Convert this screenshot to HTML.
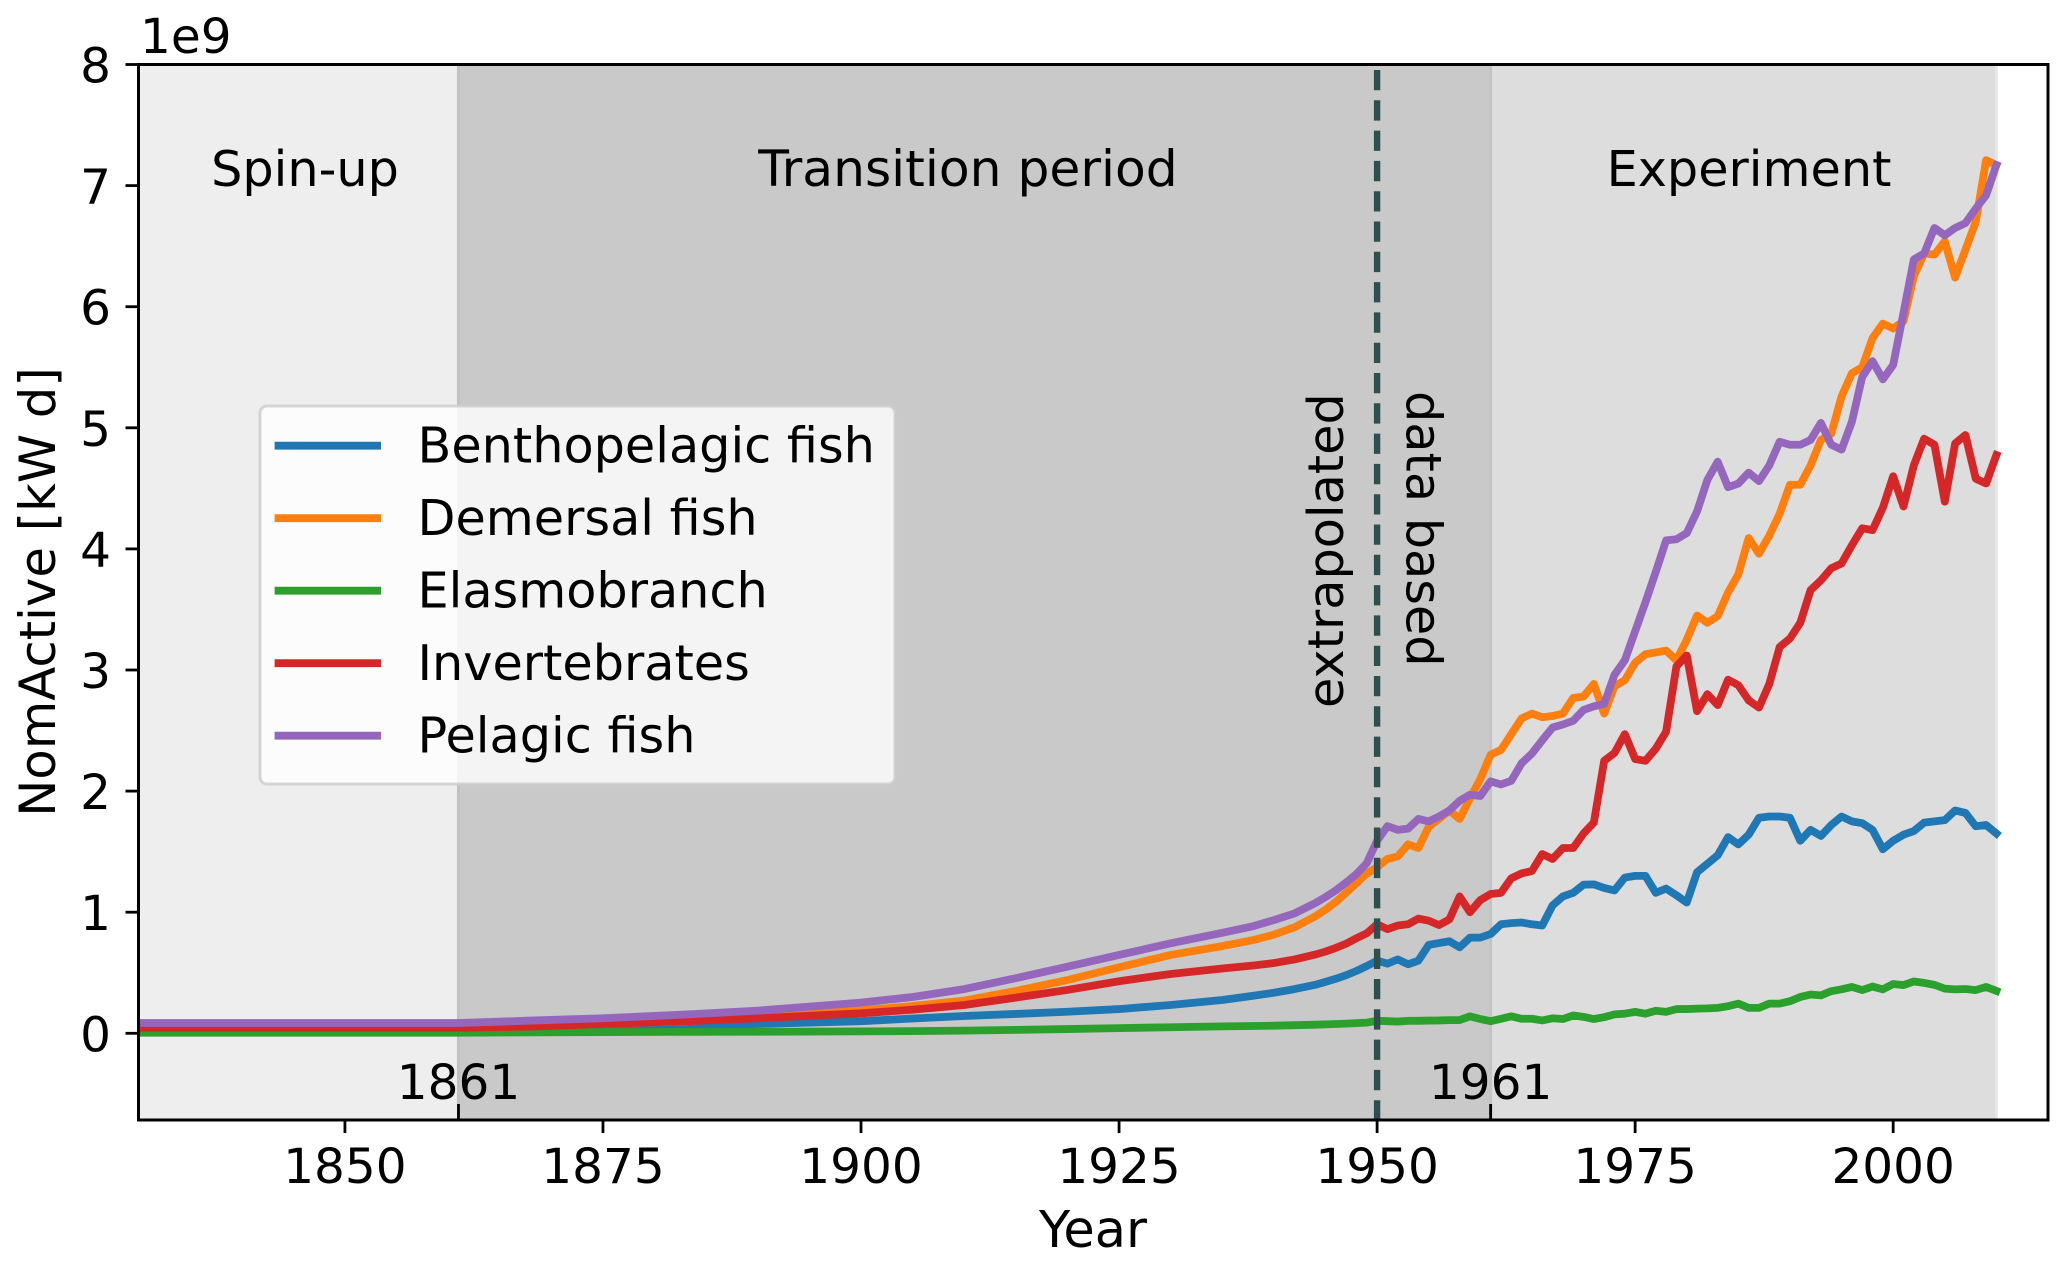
<!DOCTYPE html>
<html lang="en">
<head>
<meta charset="utf-8">
<title>NomActive by functional group</title>
<style>
html,body{margin:0;padding:0;background:#fff;}
svg{display:block;font-family:"DejaVu Sans","Liberation Sans",sans-serif;}
text{fill:#000;font-size:49.3px;}
text.tick{font-size:48.5px;}
</style>
</head>
<body>
<svg id="chart" xmlns="http://www.w3.org/2000/svg" width="2067" height="1265" viewBox="0 0 2067 1265">
  <defs>
    <clipPath id="plot-clip"><rect x="138.5" y="64.5" width="1909.5" height="1055.5"/></clipPath>
  </defs>
  <rect x="0" y="0" width="2067" height="1265" fill="#ffffff"/>
  <g id="spans"></g>
  <g id="series" clip-path="url(#plot-clip)"></g>
  <g id="marker"></g>
  <g id="axes"></g>
  <g>
    <text x="305" y="186" text-anchor="middle">Spin-up</text>
    <text x="968" y="186" text-anchor="middle" style="font-size:50.3px">Transition period</text>
    <text x="1749" y="186" text-anchor="middle">Experiment</text>
    <text transform="translate(1343 708) rotate(-90)">extrapolated</text>
    <text transform="translate(1406.5 391) rotate(90)">data based</text>
  </g>
  <g>
    <rect x="260" y="406" width="635" height="378" rx="7" ry="7" fill="#ffffff" fill-opacity="0.8" stroke="#cccccc" stroke-opacity="0.8" stroke-width="3"/>
    <g>
      <line x1="274.6" x2="381" y1="445.7" y2="445.7" stroke="#1f77b4" stroke-width="7.8"/>
      <text x="417.5" y="462.7">Benthopelagic fish</text>
    </g>
    <g>
      <line x1="274.6" x2="381" y1="518.2" y2="518.2" stroke="#ff7f0e" stroke-width="7.8"/>
      <text x="417.5" y="535.2">Demersal fish</text>
    </g>
    <g>
      <line x1="274.6" x2="381" y1="590.7" y2="590.7" stroke="#2ca02c" stroke-width="7.8"/>
      <text x="417.5" y="607.7">Elasmobranch</text>
    </g>
    <g>
      <line x1="274.6" x2="381" y1="663.2" y2="663.2" stroke="#d62728" stroke-width="7.8"/>
      <text x="417.5" y="680.2">Invertebrates</text>
    </g>
    <g>
      <line x1="274.6" x2="381" y1="735.7" y2="735.7" stroke="#9467bd" stroke-width="7.8"/>
      <text x="417.5" y="752.7">Pelagic fish</text>
    </g>
  </g>
</svg>
<script>
const years = [1830,1861,1868,1875,1883,1890,1900,1905,1910,1915,1920,1925,1930,1935,1938,1940,1942,1944,1945,1946,1947,1948,1949,
  1950,1951,1952,1953,1954,1955,1956,1957,1958,1959,
  1960,1961,1962,1963,1964,1965,1966,1967,1968,1969,
  1970,1971,1972,1973,1974,1975,1976,1977,1978,1979,
  1980,1981,1982,1983,1984,1985,1986,1987,1988,1989,
  1990,1991,1992,1993,1994,1995,1996,1997,1998,1999,
  2000,2001,2002,2003,2004,2005,2006,2007,2008,2009,
  2010];
const benthopelagic = [.03,.03,.035,.046,.06,.077,.10,.122,.143,.16,.178,.20,.234,.275,.31,.335,.365,.40,.425,.45,.48,.515,.555,
  .60,.575,.61,.57,.60,.73,.745,.76,.71,.79,
  .79,.82,.90,.91,.915,.90,.89,1.056,1.13,1.16,
  1.227,1.23,1.20,1.18,1.286,1.30,1.30,1.16,1.195,1.14,
  1.08,1.33,1.40,1.47,1.62,1.56,1.64,1.78,1.79,1.79,
  1.78,1.59,1.68,1.63,1.72,1.79,1.75,1.735,1.68,1.52,
  1.59,1.64,1.67,1.74,1.75,1.76,1.84,1.82,1.71,1.72,
  1.65];
const demersal = [.04,.04,.055,.077,.10,.13,.19,.225,.27,.35,.44,.545,.647,.72,.77,.815,.875,.965,1.02,1.085,1.16,1.24,1.32,
  1.37,1.44,1.46,1.56,1.53,1.705,1.77,1.84,1.77,1.94,
  2.10,2.30,2.34,2.47,2.60,2.64,2.61,2.62,2.64,2.77,
  2.78,2.885,2.64,2.865,2.915,3.06,3.13,3.145,3.16,3.08,
  3.25,3.45,3.39,3.445,3.64,3.79,4.09,3.96,4.11,4.29,
  4.53,4.53,4.69,4.90,4.95,5.26,5.45,5.50,5.74,5.86,
  5.82,5.88,6.25,6.44,6.43,6.54,6.24,6.47,6.70,7.21,
  7.17];
const elasmobranch = [.005,.005,.008,.01,.012,.013,.016,.018,.022,.028,.035,.043,.05,.057,.06,.063,.067,.071,.074,.077,.08,.084,.088,
  .103,.10,.097,.103,.103,.105,.106,.109,.109,.14,
  .118,.10,.12,.14,.12,.12,.106,.124,.118,.147,
  .136,.118,.133,.156,.162,.177,.162,.186,.177,.20,
  .20,.204,.206,.21,.224,.245,.21,.21,.245,.245,
  .265,.30,.32,.313,.348,.363,.383,.357,.386,.363,
  .407,.398,.428,.416,.40,.369,.363,.366,.357,.383,
  .35];
const invertebrates = [.045,.045,.055,.077,.10,.124,.165,.195,.234,.295,.358,.43,.49,.535,.56,.58,.61,.65,.675,.705,.74,.785,.826,
  .90,.86,.89,.90,.947,.93,.894,.94,1.13,1.00,
  1.10,1.15,1.16,1.28,1.32,1.34,1.48,1.44,1.53,1.53,
  1.65,1.74,2.25,2.315,2.47,2.265,2.25,2.35,2.49,3.03,
  3.12,2.66,2.80,2.71,2.92,2.875,2.75,2.69,2.885,3.19,
  3.26,3.39,3.66,3.74,3.84,3.88,4.03,4.17,4.155,4.34,
  4.60,4.35,4.69,4.91,4.86,4.39,4.87,4.94,4.58,4.54,
  4.775];
const pelagic = [.085,.085,.105,.124,.155,.187,.253,.30,.365,.455,.55,.647,.743,.83,.885,.935,.99,1.075,1.125,1.18,1.245,1.315,1.405,
  1.59,1.71,1.68,1.69,1.77,1.75,1.79,1.84,1.92,1.97,
  1.96,2.08,2.055,2.085,2.23,2.31,2.42,2.525,2.55,2.58,
  2.67,2.70,2.72,2.96,3.08,3.32,3.56,3.81,4.07,4.08,
  4.13,4.31,4.57,4.72,4.51,4.54,4.63,4.56,4.69,4.885,
  4.86,4.86,4.90,5.04,4.86,4.82,5.05,5.42,5.55,5.40,
  5.52,5.95,6.39,6.44,6.65,6.59,6.65,6.69,6.81,6.92,
  7.17];
const seriesNames = ['benthopelagic','demersal','elasmobranch','invertebrates','pelagic'];
const seriesColors = ['#1f77b4','#ff7f0e','#2ca02c','#d62728','#9467bd'];
const seriesValues = [benthopelagic,demersal,elasmobranch,invertebrates,pelagic];
const xTickYears = [1850,1875,1900,1925,1950,1975,2000];
const xInnerTickYears = [1861,1961];
const yTickValues = [0,1,2,3,4,5,6,7,8];
const periodStarts = [1830,1861,1961];
const periodEnds = [1861,1961,2010];
const periodNames = ['spin-up','transition','experiment'];
const periodColors = ['#eeeeee','#c9c9c9','#dddddd'];
const splitYear = 1950;

const NS = 'http://www.w3.org/2000/svg';
const PLOT_LEFT = 138.5, PLOT_RIGHT = 2048, PLOT_TOP = 64.5, PLOT_BOTTOM = 1120;
const X_MIN = 1830, X_MAX = 2015, Y_TOP = 8, Y_ZERO_PX = 1033.3;
function xScale(year){ return PLOT_LEFT + (year - X_MIN) * (PLOT_RIGHT - PLOT_LEFT) / (X_MAX - X_MIN); }
function yScale(v){ return Y_ZERO_PX - v * (Y_ZERO_PX - PLOT_TOP) / Y_TOP; }
function make(tag, attrs, parent){
  const el = document.createElementNS(NS, tag);
  for (const k in attrs) el.setAttribute(k, attrs[k]);
  parent.appendChild(el);
  return el;
}

const spansG = document.getElementById('spans');
periodStarts.forEach(function(start, i){
  const r = make('rect', {x: xScale(start), y: PLOT_TOP, width: xScale(periodEnds[i]) - xScale(start), height: PLOT_BOTTOM - PLOT_TOP, fill: periodColors[i]}, spansG);
  
  
});
[[1861,'#c1c1c1'],[1961,'#c4c4c4'],[2010,'#e6e6e6']].forEach(function(edge){
  const l = make('line', {x1: xScale(edge[0]), x2: xScale(edge[0]), y1: PLOT_TOP, y2: PLOT_BOTTOM, stroke: edge[1], 'stroke-width': 3}, spansG);
  
  
});

const seriesG = document.getElementById('series');
seriesValues.forEach(function(values, i){
  const pts = values.map(function(v, j){ return xScale(years[j]).toFixed(2) + ',' + yScale(v).toFixed(2); }).join(' ');
  const p = make('polyline', {points: pts, fill: 'none', stroke: seriesColors[i], 'stroke-width': 7.8, 'stroke-linejoin': 'round', 'stroke-linecap': 'square'}, seriesG);
  
  
});

const markerG = document.getElementById('marker');
const dash = make('line', {x1: xScale(splitYear), x2: xScale(splitYear), y1: 70, y2: PLOT_BOTTOM, stroke: '#2f4f4f', 'stroke-width': 6.4, 'stroke-dasharray': '20.3 10'}, markerG);



const axesG = document.getElementById('axes');
const frame = make('rect', {x: PLOT_LEFT, y: PLOT_TOP, width: PLOT_RIGHT - PLOT_LEFT, height: PLOT_BOTTOM - PLOT_TOP, fill: 'none', stroke: '#000', 'stroke-width': 3}, axesG);



xTickYears.forEach(function(year){
  const x = xScale(year);
  const t = make('line', {x1: x, x2: x, y1: PLOT_BOTTOM, y2: PLOT_BOTTOM + 13, stroke: '#000', 'stroke-width': 2.8}, axesG);
  
  
  const l = make('text', {x: x, y: 1183, 'text-anchor': 'middle', 'class': 'tick'}, axesG);
  l.textContent = String(year);
  
  
});
xInnerTickYears.forEach(function(year){
  const x = xScale(year);
  const t = make('line', {x1: x, x2: x, y1: PLOT_BOTTOM, y2: PLOT_BOTTOM - 16, stroke: '#000', 'stroke-width': 2.8}, axesG);
  
  
  const l = make('text', {x: x, y: 1099, 'text-anchor': 'middle', 'class': 'tick'}, axesG);
  l.textContent = String(year);
  
  
});
yTickValues.forEach(function(v){
  const y = yScale(v);
  const t = make('line', {x1: PLOT_LEFT - 13, x2: PLOT_LEFT, y1: y, y2: y, stroke: '#000', 'stroke-width': 2.8}, axesG);
  
  
  const l = make('text', {x: 111, y: y + 18, 'text-anchor': 'end', 'class': 'tick'}, axesG);
  l.textContent = String(v);
  
  
});
const offset = make('text', {x: 140, y: 53, 'class': 'tick'}, axesG);
offset.textContent = '1e9';


const xTitle = make('text', {x: 1093, y: 1247, 'text-anchor': 'middle', style: 'font-size:51px'}, axesG);
xTitle.textContent = 'Year';


const yTitle = make('text', {transform: 'translate(55 592) rotate(-90)', 'text-anchor': 'middle', style: 'font-size:49.7px'}, axesG);
yTitle.textContent = 'NomActive [kW d]';


</script>
</body>
</html>
